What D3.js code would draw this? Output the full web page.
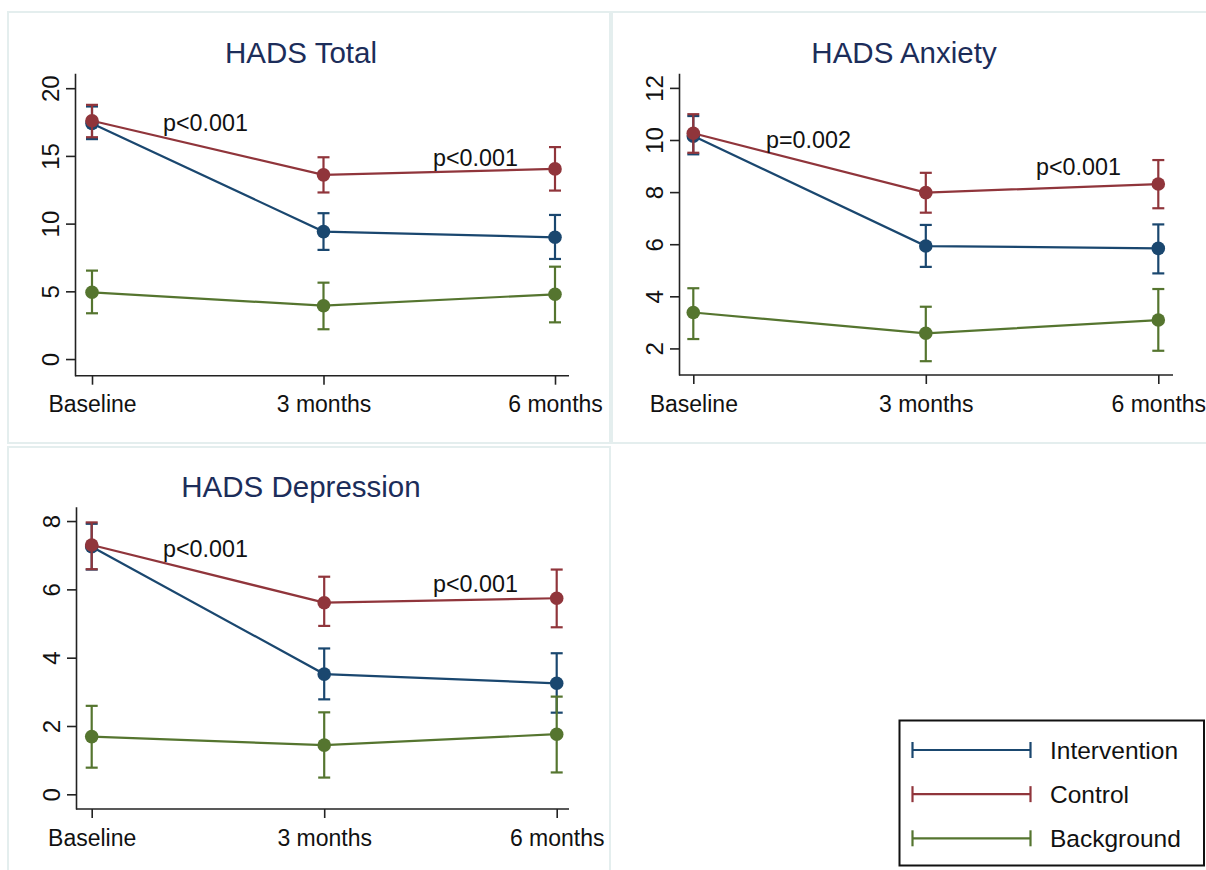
<!DOCTYPE html>
<html><head><meta charset="utf-8">
<script src="https://cdn.jsdelivr.net/npm/d3@7/dist/d3.min.js"></script>
<style>body{margin:0;background:#fff}svg{display:block}text{font-family:"Liberation Sans",Arial,sans-serif}</style>
</head><body>
<svg id="c" width="1206" height="870"></svg>
<script>
const categories = ["Baseline","3 months","6 months"];
const seriesNames = ["Intervention","Control","Background"];
const seriesColors = ["#1a476f","#90353b","#55752f"];

// HADS Total
const totalInterventionMean = [17.4, 9.41, 8.99];
const totalInterventionLo   = [16.24, 8.06, 7.39];
const totalInterventionHi   = [18.65, 10.77, 10.64];
const totalControlMean = [17.6, 13.6, 14.04];
const totalControlLo   = [16.38, 12.3, 12.44];
const totalControlHi   = [18.77, 14.9, 15.65];
const totalBackgroundMean = [4.93, 3.94, 4.78];
const totalBackgroundLo   = [3.38, 2.2, 2.71];
const totalBackgroundHi   = [6.53, 5.64, 6.82];
const totalTicks = [0,5,10,15,20];
const totalPValues = ["p<0.001","p<0.001"];

// HADS Anxiety
const anxInterventionMean = [10.15, 5.93, 5.84];
const anxInterventionLo   = [9.45, 5.13, 4.88];
const anxInterventionHi   = [10.92, 6.74, 6.76];
const anxControlMean = [10.26, 7.98, 8.31];
const anxControlLo   = [9.51, 7.21, 7.38];
const anxControlHi   = [10.99, 8.74, 9.23];
const anxBackgroundMean = [3.38, 2.58, 3.09];
const anxBackgroundLo   = [2.36, 1.51, 1.91];
const anxBackgroundHi   = [4.31, 3.6, 4.28];
const anxTicks = [2,4,6,8,10,12];
const anxPValues = ["p=0.002","p<0.001"];

// HADS Depression
const depInterventionMean = [7.25, 3.52, 3.25];
const depInterventionLo   = [6.58, 2.78, 2.39];
const depInterventionHi   = [7.92, 4.27, 4.13];
const depControlMean = [7.30, 5.61, 5.74];
const depControlLo   = [6.59, 4.93, 4.89];
const depControlHi   = [7.96, 6.37, 6.58];
const depBackgroundMean = [1.69, 1.44, 1.76];
const depBackgroundLo   = [0.78, 0.49, 0.64];
const depBackgroundHi   = [2.59, 2.40, 2.86];
const depTicks = [0,2,4,6,8];
const depPValues = ["p<0.001","p<0.001"];

const panels = [
  {title:"HADS Total", ticks: totalTicks, domain:[-1.23, 21.1], p: totalPValues,
   pos:{left:75, right:569, top:73.3, bottom:375.7, x0:92, x1:555, titleX:301, titleY:63, pXY:[[163,131],[433,166]]},
   series:[[totalInterventionMean,totalInterventionLo,totalInterventionHi],
           [totalControlMean,totalControlLo,totalControlHi],
           [totalBackgroundMean,totalBackgroundLo,totalBackgroundHi]]},
  {title:"HADS Anxiety", ticks: anxTicks, domain:[0.98, 12.56], p: anxPValues,
   pos:{left:679, right:1173, top:73.3, bottom:375, x0:693.3, x1:1158.3, titleX:904, titleY:63, pXY:[[766,148],[1036,175]]},
   series:[[anxInterventionMean,anxInterventionLo,anxInterventionHi],
           [anxControlMean,anxControlLo,anxControlHi],
           [anxBackgroundMean,anxBackgroundLo,anxBackgroundHi]]},
  {title:"HADS Depression", ticks: depTicks, domain:[-0.43, 8.42], p: depPValues,
   pos:{left:76, right:569, top:506.7, bottom:809, x0:91.7, x1:556.7, titleX:301, titleY:497, pXY:[[163,557],[433,592]]},
   series:[[depInterventionMean,depInterventionLo,depInterventionHi],
           [depControlMean,depControlLo,depControlHi],
           [depBackgroundMean,depBackgroundLo,depBackgroundHi]]}
];

const svg = d3.select("#c");
svg.append("rect").attr("width",1206).attr("height",870).attr("fill","#fff");

// faint panel frames
const frameCol = "#e4eeee";
[[8,12,602,431],[612,12,600,431],[8,447,602,430]].forEach(r=>{
  svg.append("rect").attr("x",r[0]).attr("y",r[1]).attr("width",r[2]).attr("height",r[3])
    .attr("fill","none").attr("stroke",frameCol).attr("stroke-width",2);
});

const axisCol = "#222";
panels.forEach(pn=>{
  const P = pn.pos;
  const g = svg.append("g");
  const x = d3.scalePoint().domain(categories).range([P.x0, P.x1]);
  const y = d3.scaleLinear().domain(pn.domain).range([P.bottom, P.top]);

  // title
  g.append("text").attr("x",P.titleX).attr("y",P.titleY).attr("text-anchor","middle")
    .attr("font-size",29.5).attr("fill","#1c2d5a").text(pn.title);

  // y axis
  const ya = g.append("g").attr("transform",`translate(${P.left},0)`)
    .call(d3.axisLeft(y).tickValues(pn.ticks).tickSize(9).tickSizeOuter(0).tickFormat(d3.format("d")));
  ya.select(".domain").attr("stroke",axisCol).attr("stroke-width",1.6);
  ya.selectAll(".tick line").attr("stroke",axisCol).attr("stroke-width",1.6);
  ya.selectAll(".tick text").attr("font-size",24).attr("fill","#111")
    .attr("x",0).attr("dy",null).attr("text-anchor","middle")
    .attr("transform","translate(-16,0) rotate(-90)").attr("y",0);
  // x axis
  const xa = g.append("g").attr("transform",`translate(0,${P.bottom})`)
    .call(d3.axisBottom(x).tickSize(9).tickSizeOuter(0));
  xa.select(".domain").attr("d",`M${P.left},0H${P.right}`).attr("stroke",axisCol).attr("stroke-width",1.6);
  xa.selectAll(".tick line").attr("stroke",axisCol).attr("stroke-width",1.6);
  xa.selectAll(".tick text").attr("font-size",23).attr("fill","#111").attr("dy",null).attr("y",36.5);

  // series
  pn.series.forEach((s,si)=>{
    const col = seriesColors[si];
    const [mean, lo, hi] = s;
    const sg = g.append("g");
    categories.forEach((c,i)=>{
      const cx = x(c);
      sg.append("line").attr("x1",cx).attr("x2",cx).attr("y1",y(lo[i])).attr("y2",y(hi[i]))
        .attr("stroke",col).attr("stroke-width",2.2);
      [lo[i],hi[i]].forEach(v=>{
        sg.append("line").attr("x1",cx-6).attr("x2",cx+6).attr("y1",y(v)).attr("y2",y(v))
          .attr("stroke",col).attr("stroke-width",2.2);
      });
    });
    sg.append("path").datum(mean).attr("fill","none").attr("stroke",col).attr("stroke-width",2.2)
      .attr("d",d3.line().x((d,i)=>x(categories[i])).y(d=>y(d)));
    sg.selectAll("circle").data(mean).join("circle")
      .attr("cx",(d,i)=>x(categories[i])).attr("cy",d=>y(d)).attr("r",6.8).attr("fill",col);
  });

  // p-values
  pn.p.forEach((t,i)=>{
    g.append("text").attr("x",P.pXY[i][0]).attr("y",P.pXY[i][1]).attr("font-size",23.3)
      .attr("fill","#111").text(t);
  });
});

// legend
const lg = svg.append("g");
lg.append("rect").attr("x",899.5).attr("y",720.5).attr("width",304.5).attr("height",145)
  .attr("fill","#fff").attr("stroke","#111").attr("stroke-width",2);
const legY = d3.scalePoint().domain(seriesNames).range([750, 838.3]);
seriesNames.forEach((n,i)=>{
  const yy = legY(n), col = seriesColors[i];
  lg.append("line").attr("x1",912.5).attr("x2",1030.5).attr("y1",yy).attr("y2",yy).attr("stroke",col).attr("stroke-width",2.2);
  [912.5,1030.5].forEach(xx=>lg.append("line").attr("x1",xx).attr("x2",xx).attr("y1",yy-8).attr("y2",yy+8).attr("stroke",col).attr("stroke-width",2.2));
  lg.append("text").attr("x",1050).attr("y",yy+9).attr("font-size",24.5).attr("fill","#111").text(n);
});
</script>
</body></html>
